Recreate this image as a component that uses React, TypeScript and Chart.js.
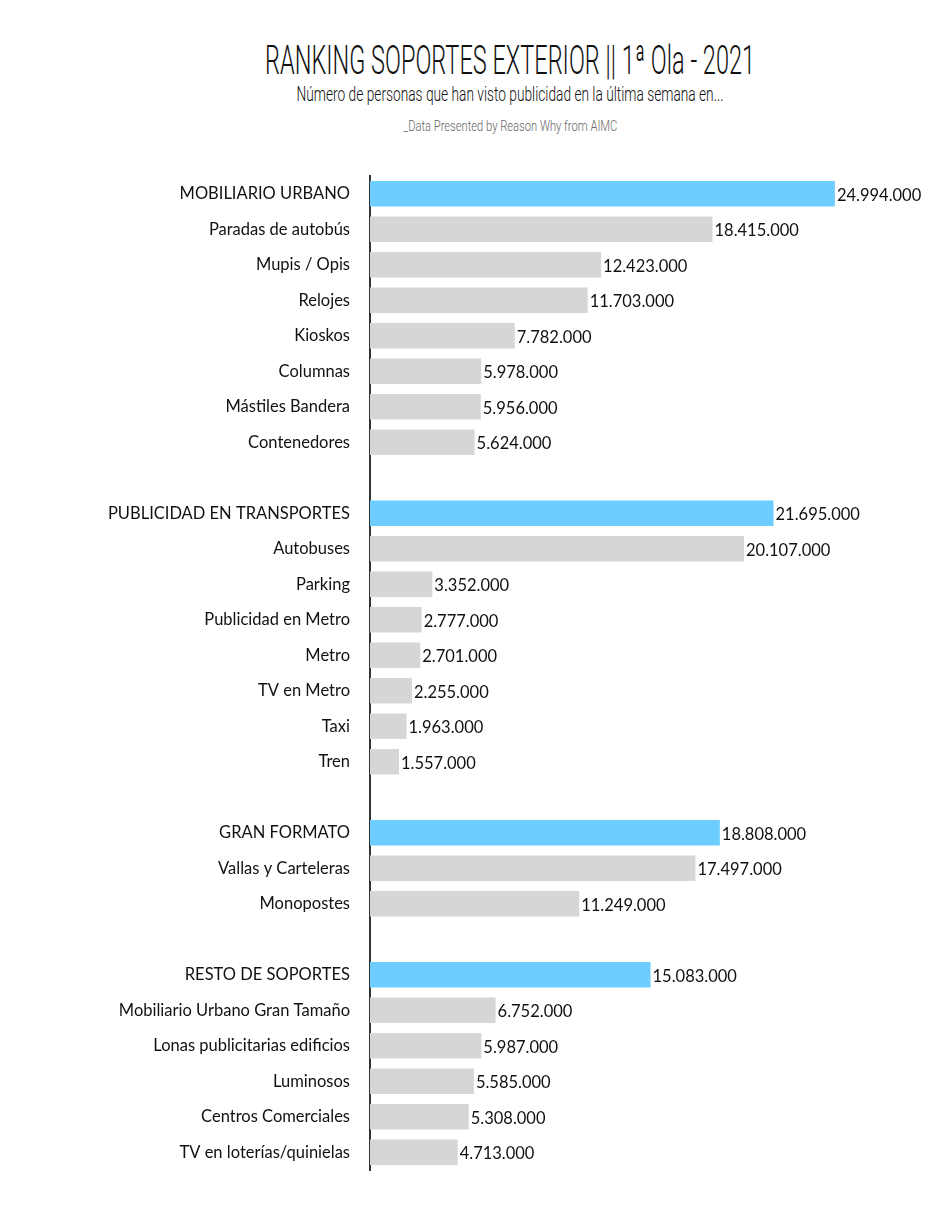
import React, { useEffect, useLayoutEffect, useRef } from "react";
import { Chart, registerables } from "chart.js";

Chart.register(...registerables);

const categories: string[] = [
  "MOBILIARIO URBANO",
  "Paradas de autobús",
  "Mupis / Opis",
  "Relojes",
  "Kioskos",
  "Columnas",
  "Mástiles Bandera",
  "Contenedores",
  "",
  "PUBLICIDAD EN TRANSPORTES",
  "Autobuses",
  "Parking",
  "Publicidad en Metro",
  "Metro",
  "TV en Metro",
  "Taxi",
  "Tren",
  " ",
  "GRAN FORMATO",
  "Vallas y Carteleras",
  "Monopostes",
  "  ",
  "RESTO DE SOPORTES",
  "Mobiliario Urbano Gran Tamaño",
  "Lonas publicitarias edificios",
  "Luminosos",
  "Centros Comerciales",
  "TV en loterías/quinielas",
];

const values: (number | null)[] = [
  24994000, 18415000, 12423000, 11703000, 7782000, 5978000, 5956000, 5624000,
  null,
  21695000, 20107000, 3352000, 2777000, 2701000, 2255000, 1963000, 1557000,
  null,
  18808000, 17497000, 11249000,
  null,
  15083000, 6752000, 5987000, 5585000, 5308000, 4713000,
];

const groupHeaders: string[] = [
  "MOBILIARIO URBANO",
  "PUBLICIDAD EN TRANSPORTES",
  "GRAN FORMATO",
  "RESTO DE SOPORTES",
];

const TITLE = "RANKING SOPORTES EXTERIOR || 1ª Ola - 2021";
const SUBTITLE = "Número de personas que han visto publicidad en la última semana en...";
const SOURCE = "_Data Presented by Reason Why from AIMC";

const BLUE = "#6ccdfe";
const GREY = "#d6d6d6";
const LABEL_FONT = "Lato, 'Open Sans', sans-serif";
const TITLE_FONT = "Roboto, 'Open Sans', sans-serif";

function fmt(v: number): string {
  return String(v).replace(/\B(?=(\d{3})+(?!\d))/g, ".");
}

const valueLabels = {
  id: "valueLabels",
  afterDatasetsDraw(chart: any) {
    const ctx = chart.ctx;
    const meta = chart.getDatasetMeta(0);
    ctx.save();
    ctx.font = `16.5px ${LABEL_FONT}`;
    ctx.fillStyle = "#111111";
    ctx.textBaseline = "middle";
    ctx.textAlign = "left";
    meta.data.forEach((el: any, i: number) => {
      const v = values[i];
      if (v == null) return;
      ctx.fillText(fmt(v), el.x + 2, el.y + 1.5);
    });
    ctx.restore();
  },
};

function FitText(props: {
  text: string;
  width: number;
  top: number;
  size: number;
  weight: number;
  color: string;
}) {
  const ref = useRef<HTMLSpanElement | null>(null);
  useLayoutEffect(() => {
    const el = ref.current;
    if (!el) return;
    el.style.transform = "none";
    const w = el.getBoundingClientRect().width;
    if (w > 0) el.style.transform = `scaleX(${props.width / w})`;
  }, [props.text, props.width]);
  return (
    <div
      style={{
        position: "absolute",
        left: 0,
        width: 1020,
        top: props.top,
        textAlign: "center",
        whiteSpace: "nowrap",
        lineHeight: `${props.size}px`,
      }}
    >
      <span
        ref={ref}
        style={{
          display: "inline-block",
          fontFamily: TITLE_FONT,
          fontSize: props.size,
          fontWeight: props.weight,
          color: props.color,
          transformOrigin: "50% 50%",
        }}
      >
        {props.text}
      </span>
    </div>
  );
}

export default function App() {
  const ref = useRef<HTMLCanvasElement | null>(null);
  useEffect(() => {
    document.body.style.margin = "0";
    if (!ref.current) return;
    const chart = new Chart(ref.current, {
      type: "bar",
      data: {
        labels: categories,
        datasets: [
          {
            data: values as any,
            backgroundColor: categories.map((c) =>
              groupHeaders.includes(c) ? BLUE : GREY
            ),
            barPercentage: 0.72,
            categoryPercentage: 1,
          },
        ],
      },
      options: {
        indexAxis: "y",
        animation: false,
        responsive: true,
        maintainAspectRatio: false,
        layout: { padding: { top: 176, bottom: 42, left: 0, right: 108 } },
        plugins: { legend: { display: false }, tooltip: { enabled: false } },
        scales: {
          x: {
            display: false,
            min: 0,
            max: 25000000,
          },
          y: {
            afterFit(scale: any) {
              scale.width = 370;
            },
            grid: { display: false, drawTicks: false },
            border: { display: true, color: "#333333", width: 2 },
            ticks: {
              color: "#111111",
              padding: 20,
              font: { family: LABEL_FONT, size: 16.5 },
            },
          },
        },
      },
      plugins: [valueLabels],
    });
    return () => chart.destroy();
  }, []);

  return (
    <div style={{ position: "relative", width: 943, height: 1212, background: "#fff" }}>
      <FitText text={TITLE} width={490} top={40} size={41} weight={300} color="#111" />
      <FitText text={SUBTITLE} width={427} top={84} size={20} weight={300} color="#111" />
      <FitText text={SOURCE} width={214} top={118} size={15.5} weight={300} color="#666" />
      <canvas
        ref={ref}
        style={{ position: "absolute", left: 0, top: 0, width: 943, height: 1212 }}
      />
    </div>
  );
}
